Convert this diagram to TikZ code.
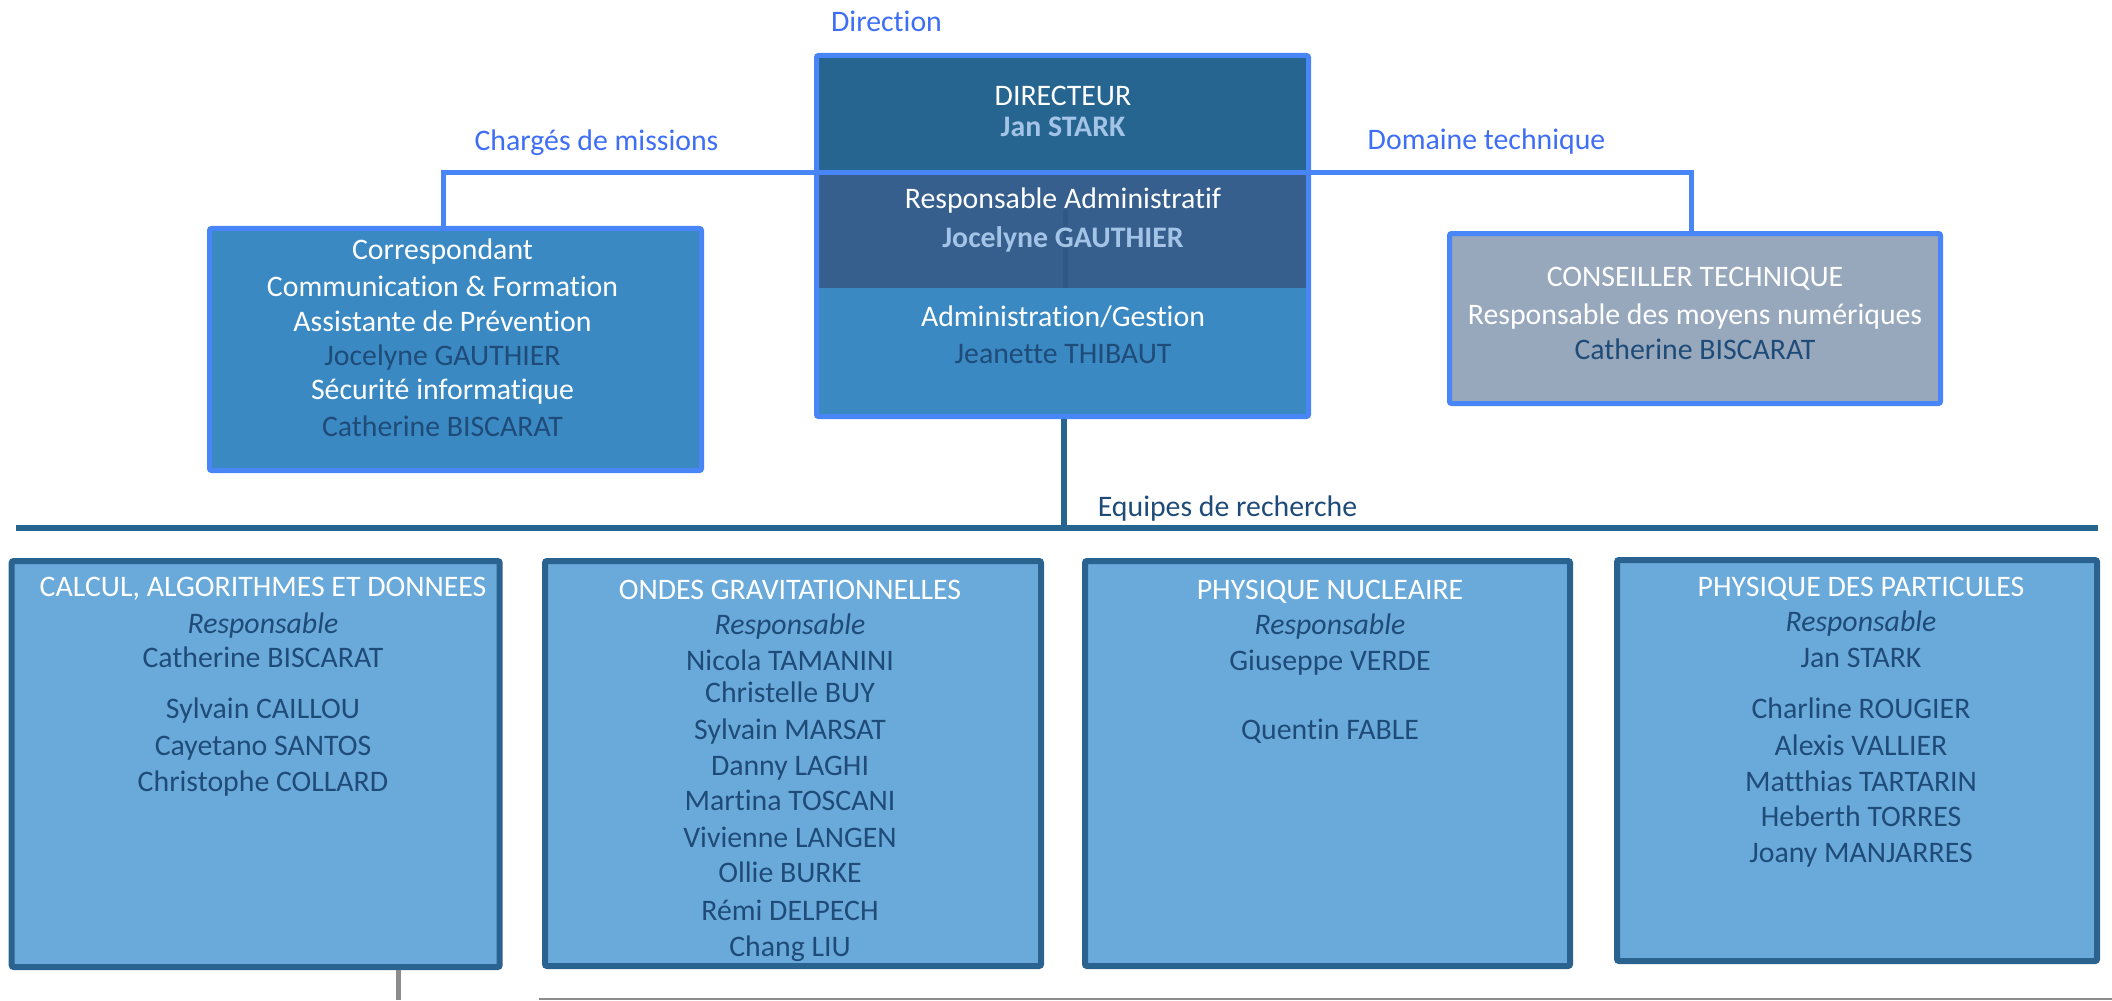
\documentclass[tikz,border=0pt]{standalone}
\usepackage{fontspec}
\setmainfont{Carlito}[RawFeature={-liga;-clig;-calt}]
\usetikzlibrary{calc}
\definecolor{brightblue}{RGB}{72,133,247}
\definecolor{labelblue}{RGB}{62,110,245}
\definecolor{dirtop}{RGB}{39,101,145}
\definecolor{dirmid}{RGB}{54,95,142}
\definecolor{midblue}{RGB}{58,137,195}
\definecolor{lightname}{RGB}{163,196,230}
\definecolor{darktext}{RGB}{31,75,120}
\definecolor{techfill}{RGB}{151,168,189}
\definecolor{teamfill}{RGB}{106,170,219}
\definecolor{teamborder}{RGB}{42,99,144}
\definecolor{faintline}{RGB}{48,88,135}
\definecolor{greyline}{RGB}{140,140,140}
\newcommand\whitetxt{\color{white}}
\begin{document}
\begin{tikzpicture}[x=0.5pt,y=-0.5pt,
  txt/.style={inner sep=0pt, anchor=base, text=darktext, font=\fontsize{14.9}{17}\selectfont},
  lbl/.style={inner sep=0pt, anchor=base, text=labelblue, font=\fontsize{14.9}{17}\selectfont},
  topbox/.style={draw=brightblue, line width=2.5pt, rounded corners=1pt, inner sep=0pt},
  teambox/.style={draw=teamborder, fill=teamfill, line width=3pt, rounded corners=1pt, inner sep=0pt},
  conn/.style={draw=brightblue, line width=2.5pt},
  trunk/.style={draw=dirtop, line width=3pt}]
\useasboundingbox (0,0) rectangle (2112,1000);

% central direction box
\fill[dirtop] (817,56) rectangle (1308,173);
\fill[dirmid] (817,173) rectangle (1308,288);
\fill[midblue] (817,288) rectangle (1308,416);
\draw[faintline, line width=2.5pt] (1065,210) -- (1065,288);
\node[topbox, minimum width=246pt, minimum height=180.5pt] (dir) at (1062.5,236) {};

% side boxes
\node[topbox, fill=midblue, minimum width=246pt, minimum height=121pt] (cm) at (455.5,349.5) {};
\node[topbox, fill=techfill, minimum width=245.5pt, minimum height=85pt] (ct) at (1695,318.5) {};

% connectors
\coordinate (jn) at (1062.5,173);
\draw[conn] ($(cm.north)+(-12,0)$) |- (jn) -| ($(ct.north)+(-3.5,0)$);
\coordinate (eqL) at (15.5,528);
\coordinate (eqR) at (2098,528);
\draw[trunk] (eqL) -- (eqR);
\draw[trunk] ($(dir.south)+(1.5,0)$) -- ($(dir.south |- eqL)+(1.5,0)$);

% team boxes
\node[teambox, minimum width=244pt, minimum height=203pt] (b1) at (255.7,764) {};
\node[teambox, minimum width=248pt, minimum height=202.5pt] (b2) at (793,763.5) {};
\node[teambox, minimum width=242.5pt, minimum height=202.5pt] (b3) at (1327.5,763.5) {};
\node[teambox, minimum width=240pt, minimum height=200.5pt] (b4) at (1857,760.5) {};

% grey lines
\coordinate (gA) at (398.4,1000);
\draw[greyline, line width=2.5pt] (b1.south -| gA) -- (gA);
\coordinate (gL) at (539,999);
\coordinate (gR) at (2112,999);
\draw[greyline, line width=1pt] (gL) -- (gR);

% labels
\node[lbl] (lDir) at (886.5,32) {Direction};
\node[lbl] (lCm) at (596.5,151) {Chargés de missions};
\node[lbl] (lDt) at (1486.5,150) {Domaine technique};
\node[txt] (lEq) at (1227.5,516) {Equipes de recherche};

% central texts
\node[txt, text=white] (d1) at (1063,106) {DIRECTEUR};
\node[txt, text=lightname, font=\fontsize{14.9}{17}\selectfont\bfseries] (d2) at (1063,137) {Jan STARK};
\node[txt, text=white] (d3) at (1063,209) {Responsable Administratif};
\node[txt, text=lightname, font=\fontsize{14.9}{17}\selectfont\bfseries] (d4) at (1063,248) {Jocelyne GAUTHIER};
\node[txt, text=white] (d5) at (1063,326) {Administration/Gestion};
\node[txt] (d6) at (1063,363) {Jeanette THIBAUT};

% left box texts
\node[txt, text=white] (c1) at (442.5,259) {Correspondant};
\node[txt, text=white] (c2) at (442.5,296) {Communication \& Formation};
\node[txt, text=white] (c3) at (442.5,331) {Assistante de Prévention};
\node[txt] (c4) at (442.5,365) {Jocelyne GAUTHIER};
\node[txt, text=white] (c5) at (442.5,399) {Sécurité informatique};
\node[txt] (c6) at (442.5,436) {Catherine BISCARAT};

% right box texts
\node[txt, text=white] (t1) at (1695,286) {CONSEILLER TECHNIQUE};
\node[txt, text=white] (t2) at (1695,324) {Responsable des moyens numériques};
\node[txt] (t3) at (1695,359) {Catherine BISCARAT};

% team texts
\foreach \t/\yy [count=\i] in {{\whitetxt CALCUL, ALGORITHMES ET DONNEES}/596, {\itshape Responsable}/633, {Catherine BISCARAT}/667, {Sylvain CAILLOU}/718, {Cayetano SANTOS}/755, {Christophe COLLARD}/791}
  \node[txt] (p1t\i) at (263,\yy) {\t};
\foreach \t/\yy [count=\i] in {{\whitetxt ONDES GRAVITATIONNELLES}/599, {\itshape Responsable}/634, {Nicola TAMANINI}/670, {Christelle BUY}/702, {Sylvain MARSAT}/739, {Danny LAGHI}/775, {Martina TOSCANI}/810, {Vivienne LANGEN}/847, {Ollie BURKE}/882, {Rémi DELPECH}/920, {Chang LIU}/956}
  \node[txt] (p2t\i) at (790,\yy) {\t};
\foreach \t/\yy [count=\i] in {{\whitetxt PHYSIQUE NUCLEAIRE}/599, {\itshape Responsable}/634, {Giuseppe VERDE}/670, {Quentin FABLE}/739}
  \node[txt] (p3t\i) at (1330,\yy) {\t};
\foreach \t/\yy [count=\i] in {{\whitetxt PHYSIQUE DES PARTICULES}/596, {\itshape Responsable}/631, {Jan STARK}/667, {Charline ROUGIER}/718, {Alexis VALLIER}/755, {Matthias TARTARIN}/791, {Heberth TORRES}/826, {Joany MANJARRES}/862}
  \node[txt] (p4t\i) at (1861,\yy) {\t};
\end{tikzpicture}
\end{document}
